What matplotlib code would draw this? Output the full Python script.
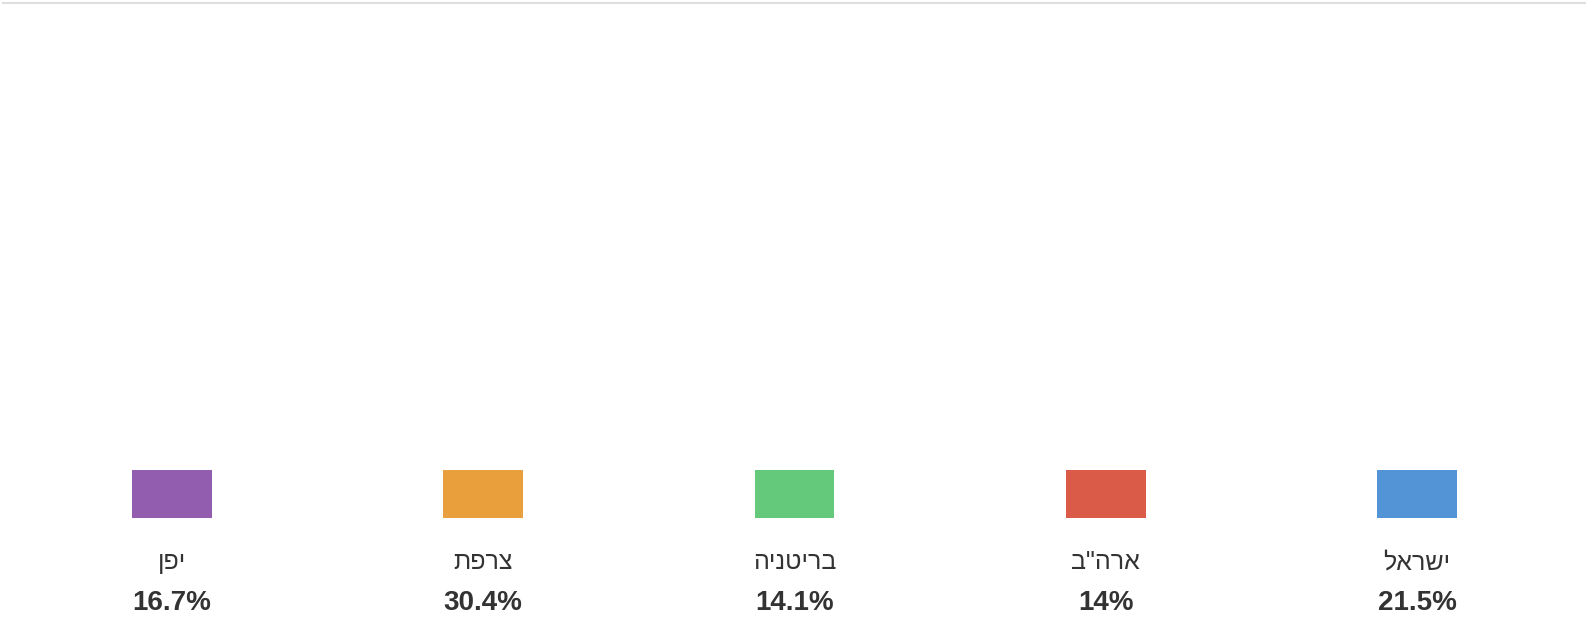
import matplotlib
matplotlib.use("Agg")
import matplotlib.pyplot as plt
from matplotlib.lines import Line2D

# data, in right-to-left order as shown
countries = ['ישראל', 'ארה"ב', 'בריטניה', 'צרפת', 'יפן']
shares = [21.5, 14, 14.1, 30.4, 16.7]
colors = ['#5294d5', '#d95b48', '#64c97a', '#e9a03c', '#925daf']

plt.rcParams['font.family'] = ['Liberation Sans', 'DejaVu Sans']

W, H = 1590, 642
fig = plt.figure(figsize=(W / 100, H / 100), dpi=100)
ax = fig.add_axes([0, 0, 1, 1])

# pixel-ish layout: item i sits at right, spacing ~311px
step = 311.25
first_px = 1417
pos = [len(countries) - 1 - i for i in range(len(countries))]
ax.set_xlim(-(first_px - step * 4) / step, 4 + (W - first_px) / step)
ax.set_ylim(H, 0)
ax.axis('off')

ax.bar(pos, [48] * len(pos), bottom=470, width=80 / step, color=colors, linewidth=0)

for p, name, v in zip(pos, countries, shares):
    ax.text(p, 562, name[::-1], ha='center', va='center', fontsize=18, color='#333333')
    ax.text(p, 603, f'{v:g}%', ha='center', va='center', fontsize=20,
            fontweight='bold', color='#333333')

# card top border
fig.add_artist(Line2D([0.002, 0.997], [1 - 3 / H, 1 - 3 / H], transform=fig.transFigure,
                      color='#dedede', linewidth=1.5))

fig.savefig('out.png', dpi=100)
